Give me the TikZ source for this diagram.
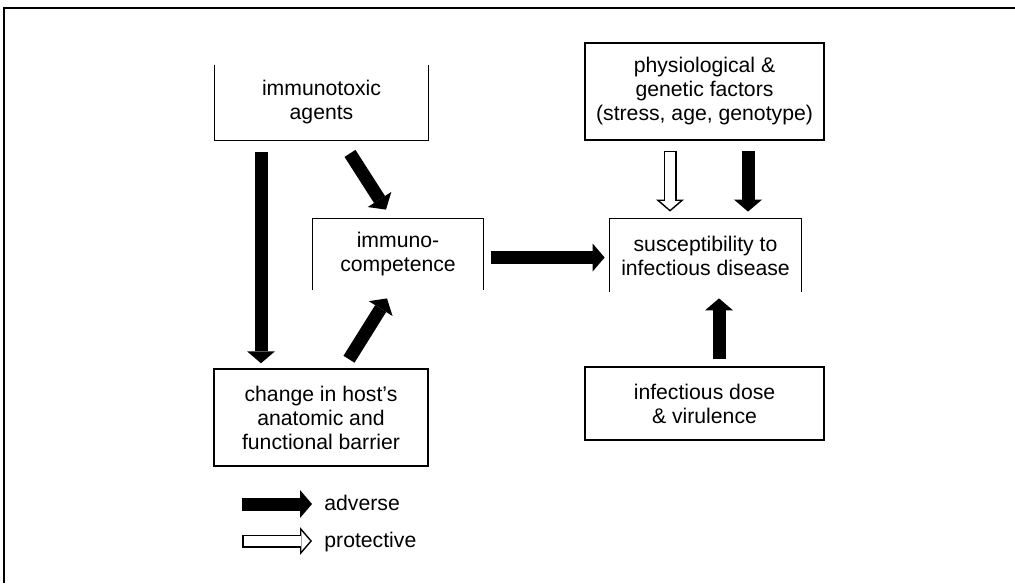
\documentclass[tikz,border=0pt]{standalone}
\usepackage{fontspec}
\setmainfont{Liberation Sans}
\usetikzlibrary{arrows.meta}
\begin{document}
\begin{tikzpicture}[x=0.5pt,y=-0.5pt]
	\tikzset{
		every node/.style={font=\fontsize{10.6}{12}\selectfont,align=center,inner sep=0pt},
		% hop chu
		hop/.style 2 args={minimum width=#1,minimum height=#2},
		khung/.style={line width=0.75pt},
		% mui ten den
		adverse/.style={line width=6.5pt,-{Triangle[width=14pt,length=6pt,line width=0pt]}},
		% mui ten trang
		protective/.style={adverse,postaction={draw=white,line width=5pt,shorten <=0.75pt,shorten >=1pt,
				-{Triangle[width=9.9pt,length=4.3pt,line width=0pt]}}},
	}
	\useasboundingbox (0,0) rectangle (1015,583);
	\draw[line width=1pt] (4,583)--(4,8)--(1015,8);
	%
	\node[hop={106.5pt}{37.5pt}] (tox) at (321.5,102.5) {immunotoxic\\agents};
	\node[hop={85pt}{35.5pt}] (comp) at (398,254.5) {immuno-\\competence};
	\node[hop={95.5pt}{36.5pt}] (susc) at (705.5,255.5) {susceptibility to\\infectious disease};
	\node[hop={119.5pt}{48.5pt},draw,khung] (phys) at (704.5,91.5) {physiological \&\\genetic factors\\(stress, age, genotype)};
	\node[hop={107pt}{48.5pt},draw,khung] (host) at (321,417.5) {change in host's\\anatomic and\\functional barrier};
	\node[hop={119.5pt}{36.5pt},draw,khung] (dose) at (704.5,403.5) {infectious dose\\\& virulence};
	% hop ho
	\draw[khung] (tox.north west)|-(tox.south east)--(tox.north east);
	\draw[khung] (comp.south west)|-(comp.north east)--(comp.south east);
	\draw[khung] (susc.south west)|-(susc.north east)--(susc.south east);
	%
	\draw[adverse] ([xshift=-30.25pt,yshift=-6pt]tox.south)--([xshift=-30pt,yshift=2.5pt]host.north);
	\draw[adverse] ([xshift=14.25pt,yshift=-6.5pt]tox.south)--([xshift=-6pt,yshift=4.5pt]comp.north);
	\draw[adverse] ([xshift=14pt,yshift=4.5pt]host.north)--([xshift=-5.5pt,yshift=-4pt]comp.south);
	\draw[adverse] ([xshift=4pt,yshift=-1.5pt]comp.east)--([xshift=-2.5pt,yshift=-1pt]susc.west);
	\draw[protective] ([xshift=-17.25pt,yshift=-5pt]phys.south)--([xshift=-17.75pt,yshift=3.5pt]susc.north);
	\draw[adverse] ([xshift=21.75pt,yshift=-5pt]phys.south)--([xshift=21.25pt,yshift=3.5pt]susc.north);
	\draw[adverse] ([xshift=7.25pt,yshift=3.5pt]dose.north)--([xshift=6.75pt,yshift=-3pt]susc.south);
	% chu thich
	\node[anchor=base west] (adv) at (324,510) {adverse};
	\node[anchor=base west] (pro) at (324,547) {protective};
	\draw[adverse] ([xshift=-41pt,yshift=3pt]adv.base west)--([xshift=-6pt,yshift=3pt]adv.base west);
	\draw[protective] ([xshift=-41pt,yshift=3pt]pro.base west)--([xshift=-6pt,yshift=3pt]pro.base west);
\end{tikzpicture}
\end{document}
